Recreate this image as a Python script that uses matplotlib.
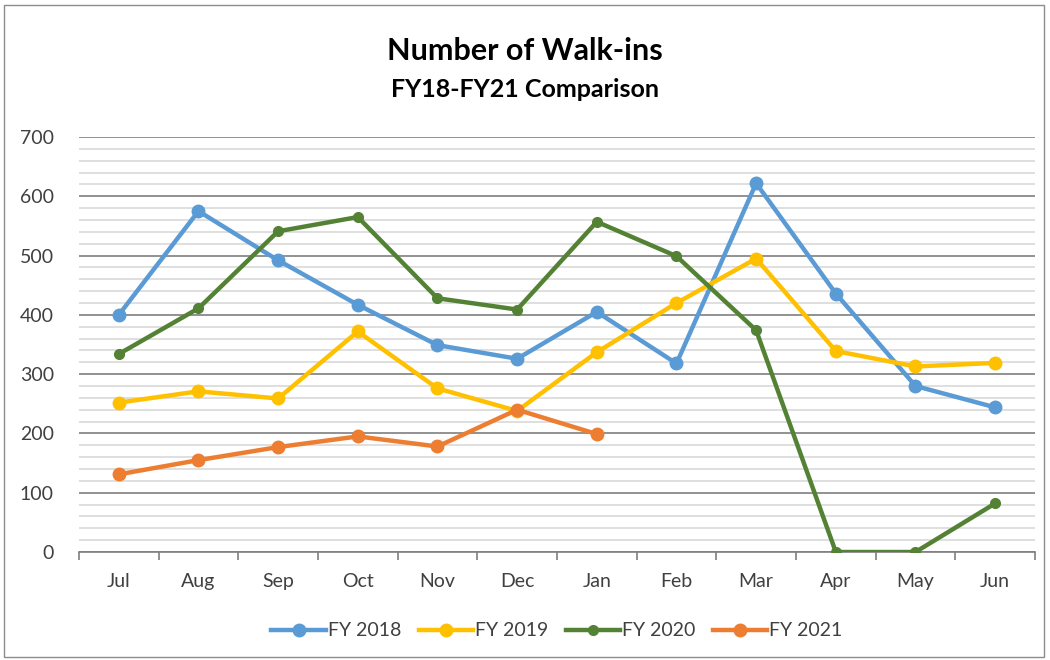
import numpy as np
import matplotlib
matplotlib.use('Agg')
from matplotlib import pyplot as plt
from matplotlib.ticker import MultipleLocator
from matplotlib.patches import Rectangle

months = ['Jul', 'Aug', 'Sep', 'Oct', 'Nov', 'Dec',
          'Jan', 'Feb', 'Mar', 'Apr', 'May', 'Jun']
fy2018 = [400, 575, 492, 417, 349, 326, 405, 318, 622, 436, 280, 244]
fy2019 = [252, 271, 259, 372, 276, 238, 337, 420, 495, 339, 313, 319]
fy2020 = [334, 411, 541, 565, 428, 409, 557, 499, 374, 0, 0, 82]
fy2021 = [131, 155, 177, 195, 178, 240, 199]

plt.rcParams['font.family'] = ['Lato', 'DejaVu Sans']

fig = plt.figure(figsize=(10.5, 6.6), dpi=100)
ax = fig.add_axes([0.0752, 0.1636, 0.9105, 0.6288])

series = [
    ('FY 2018', fy2018, '#5B9BD5', 9),
    ('FY 2019', fy2019, '#FFC000', 9),
    ('FY 2020', fy2020, '#548235', 7),
    ('FY 2021', fy2021, '#ED7D31', 9),
]
x = np.arange(len(months))
for label, values, color, ms in series:
    ax.plot(x[:len(values)], values, color=color, lw=3.2, marker='o',
            markersize=ms, label=label, zorder=3)

ax.set_xlim(-0.5, 11.5)
ax.set_ylim(0, 700)
ax.yaxis.set_major_locator(MultipleLocator(100))
ax.yaxis.set_minor_locator(MultipleLocator(20))
ax.grid(which='major', axis='y', color='#7f7f7f', lw=1.2)
ax.grid(which='minor', axis='y', color='#d9d9d9', lw=1.2)
ax.set_axisbelow(True)

ax.set_xticks(x)
ax.set_xticklabels(months)
ax.set_xticks(np.arange(-0.5, 12, 1), minor=True)
ax.tick_params(axis='x', which='major', length=0, pad=15, labelsize=14, labelcolor='#404040')
ax.tick_params(axis='x', which='minor', length=6, width=1.2, color='#7f7f7f')
ax.tick_params(axis='y', which='both', length=0, pad=18, labelsize=14, labelcolor='#404040')

for s in ['top', 'right', 'left']:
    ax.spines[s].set_visible(False)
ax.spines['bottom'].set_color('#7f7f7f')
ax.spines['bottom'].set_linewidth(1.2)

fig.text(0.5, 0.923, 'Number of Walk-ins', ha='center', va='center',
         fontsize=22, fontweight='bold', color='black')
fig.text(0.5, 0.865, 'FY18-FY21 Comparison', ha='center', va='center',
         fontsize=18, fontweight='bold', color='black')

ax.legend(loc='center', bbox_to_anchor=(0.5, -0.19), ncol=4, frameon=False,
          fontsize=14, handlelength=2.8, handletextpad=0.1, columnspacing=0.9,
          labelcolor='#404040')

fig.patches.append(Rectangle((0.004, 0.005), 0.99, 0.988, transform=fig.transFigure,
                             fill=False, edgecolor='#8c8c8c', lw=1.0))

fig.savefig('out.png', dpi=100)
